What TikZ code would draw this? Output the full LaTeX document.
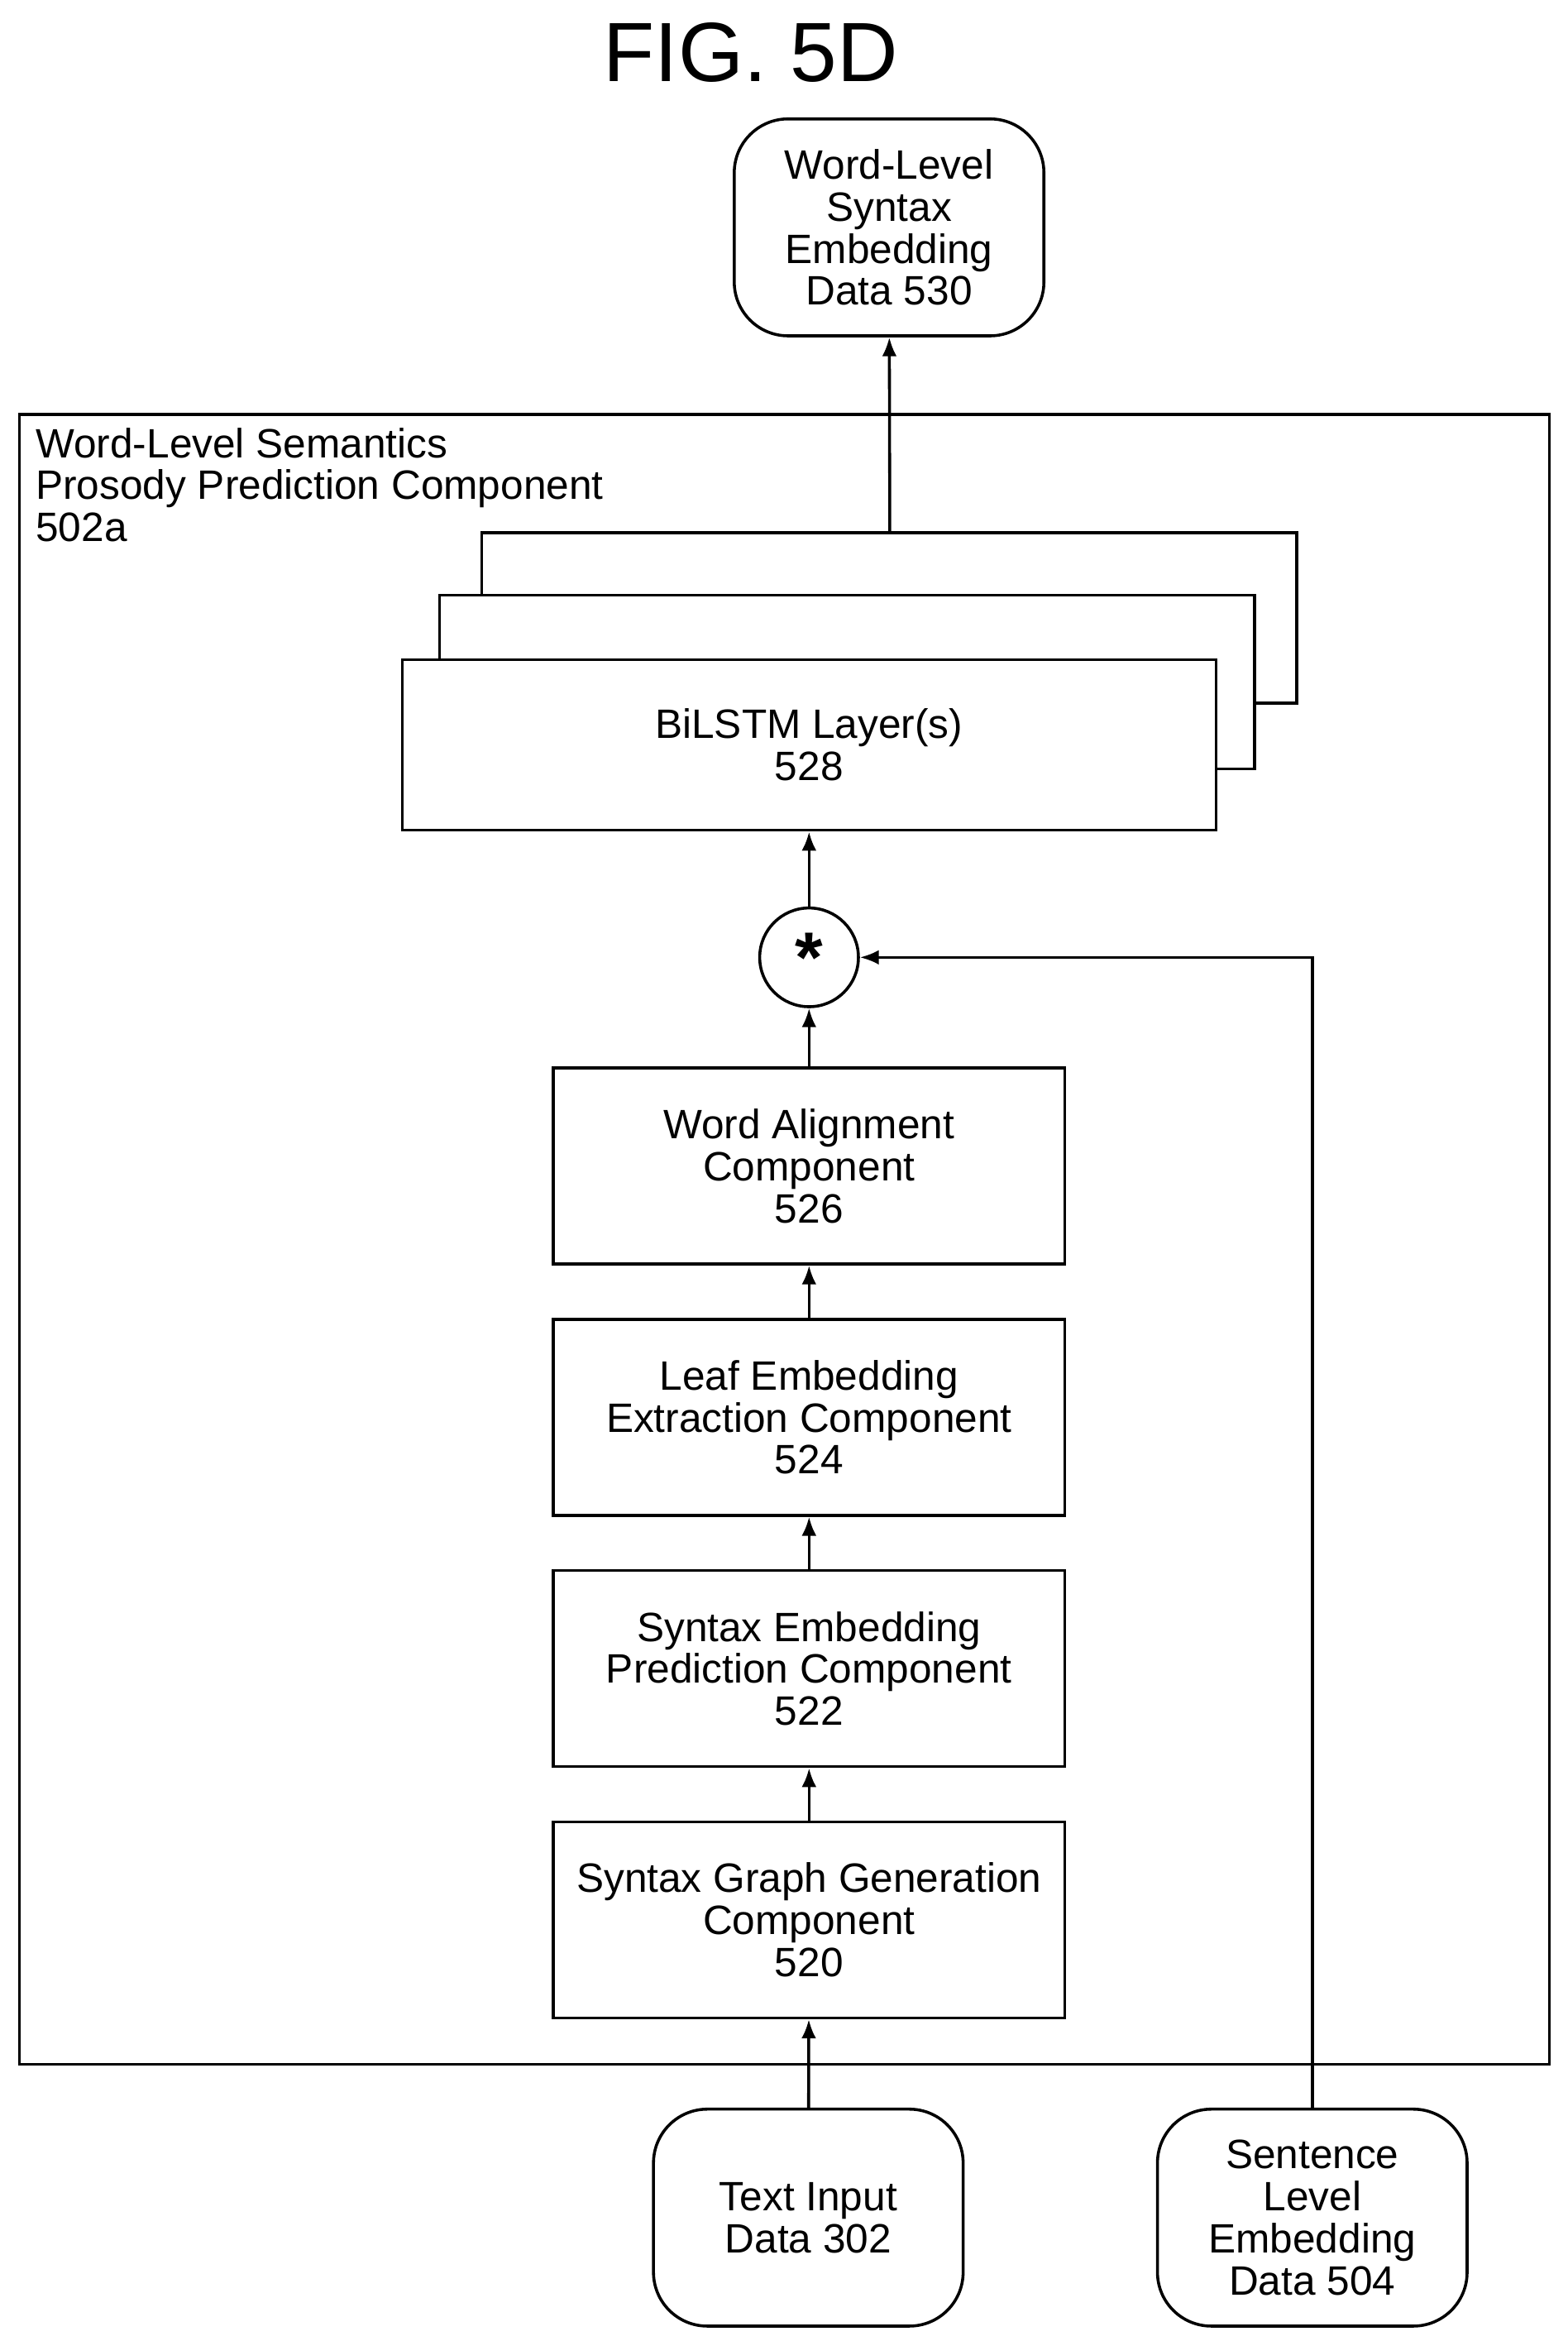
\documentclass[tikz,border=0pt]{standalone}
\usepackage{fontspec}
\setmainfont{Liberation Sans}
\usetikzlibrary{positioning,arrows.meta}
\begin{document}
\begin{tikzpicture}[x=0.025cm,y=-0.025cm,line width=1.4pt,
	txt/.style={font=\fontsize{19.5}{20}\selectfont,align=center},
	box/.style={draw,txt,inner sep=0pt,minimum width=8.55cm,minimum height=3.275cm},
	data/.style={draw,txt,rounded corners=0.9cm,inner sep=0pt,minimum width=5.175cm,minimum height=3.625cm},
	arr/.style={-{Latex[length=9pt,width=7pt]}}]
	\useasboundingbox (0,0) rectangle (1048,1565);
	%
	\node[font=\fontsize{40}{44}\selectfont] (title) at (502,35) {FIG. 5D};
	\node[data] (out) at (594.5,152) {Word-Level\\Syntax\\Embedding\\Data 530};
	%
	\draw (13,277) rectangle (1036,1380);
	\node[txt,align=left,anchor=north west,inner sep=0pt] (lbl) at (23,285) {Word-Level Semantics\\Prosody Prediction Component\\502a};
	%
	\draw[fill=white] (322,356) rectangle (867,470);
	\draw[fill=white] (294,398) rectangle (839,514);
	\node[box,fill=white,minimum width=13.6cm,minimum height=2.85cm] (lstm) at (541,498) {BiLSTM Layer(s)\\528};
	\coordinate (lstmtop) at (595,356);
	%
	\node[draw,circle,minimum size=1.65cm,inner sep=0pt,font=\fontsize{34}{34}\selectfont\bfseries] (mul) at (541,640) {*};
	\node[box] (align) at (541,779.5) {Word Alignment\\Component\\526};
	\node[box] (leaf) at (541,947.5) {Leaf Embedding\\Extraction Component\\524};
	\node[box] (pred) at (541,1115.5) {Syntax Embedding\\Prediction Component\\522};
	\node[box] (graph) at (541,1283.5) {Syntax Graph Generation\\Component\\520};
	%
	\node[data] (text) at (540.5,1482.5) {Text Input\\Data 302};
	\node[data] (sent) at (877.5,1482.5) {Sentence\\Level\\Embedding\\Data 504};
	%
	\draw[arr] (text) -- (graph);
	\draw[arr] (graph) -- (pred);
	\draw[arr] (pred) -- (leaf);
	\draw[arr] (leaf) -- (align);
	\draw[arr] (align) -- (mul);
	\draw[arr] (mul) -- (lstm);
	\draw[arr] (lstmtop) -- (out);
	\draw[arr] (sent.north) |- (mul.east);
\end{tikzpicture}
\end{document}
